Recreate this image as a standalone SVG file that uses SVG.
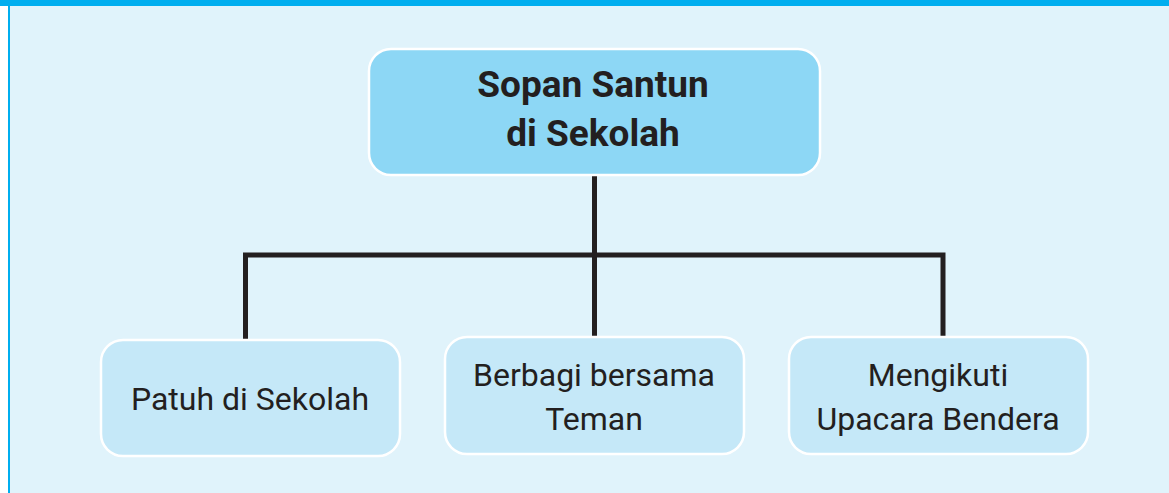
<svg xmlns="http://www.w3.org/2000/svg" width="1169" height="493" viewBox="0 0 1169 493">
<style>
.title{font-family:Roboto,"Liberation Sans",sans-serif;font-weight:700;font-size:37px;fill:#231F20;text-anchor:middle}
.lbl{font-family:Roboto,"Liberation Sans",sans-serif;font-weight:400;font-size:32px;fill:#231F20;text-anchor:middle}
.child{fill:#C5E8F8;stroke:#FFFFFF;stroke-width:2.5}
.conn{fill:none;stroke:#231F20;stroke-width:5}
</style>
<rect x="0" y="0" width="1169" height="493" fill="#FFFFFF"/>
<rect x="9" y="0" width="1160" height="493" fill="#E0F3FB"/>
<rect x="8" y="0" width="2" height="493" fill="#00AEEF"/>
<rect x="0" y="0" width="1169" height="6" fill="#00AEEF"/>
<g id="connectors">
<line class="conn" x1="594.5" y1="176" x2="594.5" y2="337"/>
<polyline class="conn" points="245.5,339 245.5,255 943,255 943,337"/>
</g>
<g id="root">
<rect x="369" y="49" width="451" height="126" rx="22" fill="#8DD7F5" stroke="#FFFFFF" stroke-width="2.5"/>
<text class="title" x="593" y="97">Sopan Santun</text>
<text class="title" x="593" y="146">di Sekolah</text>
</g>
<g id="patuh">
<rect class="child" x="101" y="340" width="299" height="116" rx="22"/>
<text class="lbl" x="250" y="410">Patuh di Sekolah</text>
</g>
<g id="berbagi">
<rect class="child" x="445" y="337" width="299" height="117" rx="22"/>
<text class="lbl" x="594" y="386">Berbagi bersama</text>
<text class="lbl" x="594" y="430">Teman</text>
</g>
<g id="upacara">
<rect class="child" x="789" y="337" width="299" height="117" rx="22"/>
<text class="lbl" x="938" y="386">Mengikuti</text>
<text class="lbl" x="938" y="430">Upacara Bendera</text>
</g>
</svg>
